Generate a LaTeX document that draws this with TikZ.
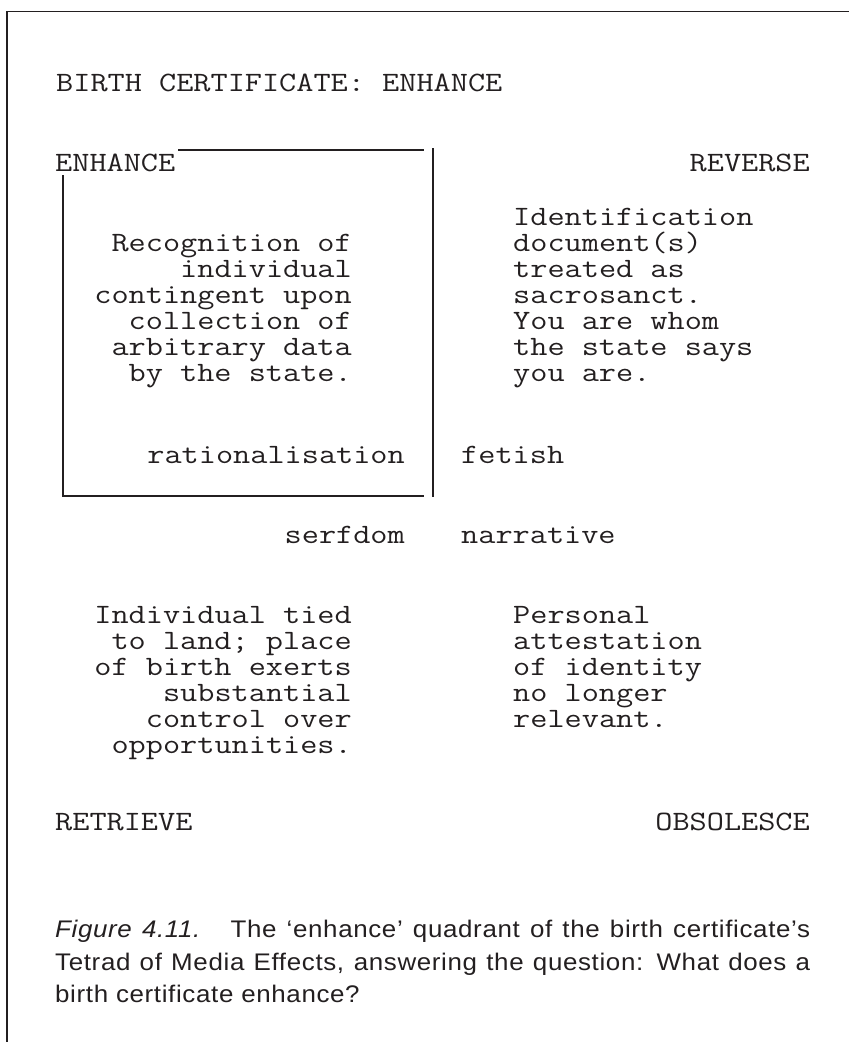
\documentclass[tikz,border=0pt]{standalone}
\usepackage{fontspec}
\setmainfont{Liberation Sans}[FakeStretch=1.08, LetterSpace=2.7]
\newfontfamily\cour{Latin Modern Mono}[FakeStretch=1.19]
\definecolor{ink}{HTML}{231F20}
\tikzset{
  mono/.style={inner sep=0pt, text=ink, font=\cour\fontsize{28}{26}\selectfont},
  capt/.style={inner sep=0pt, text=ink, font=\fontsize{24}{32}\selectfont, anchor=base west},
  frameline/.style={draw=ink, line width=1.8pt},
  boxline/.style={draw=ink, line width=1.7pt}
}
\begin{document}
\begin{tikzpicture}[x=1pt,y=-1pt]
\useasboundingbox (0,0) rectangle (849,1042);
% outer frame (left and top edges only)
\coordinate (fbl) at (7,1042);
\coordinate (ftl) at (7,11.5);
\coordinate (ftr) at (849,11.5);
\draw[frameline] (fbl) -- (ftl) -- (ftr);

% title
\node[mono, anchor=base west] (title) at (56,91) {BIRTH CERTIFICATE: ENHANCE};

% quadrant labels
\node[mono, anchor=base west] (enh) at (55,171) {ENHANCE};
\node[mono, anchor=base east] (rev) at (810,171) {REVERSE};
\node[mono, anchor=base west] (ret) at (55,830) {RETRIEVE};
\node[mono, anchor=base east] (obs) at (810,830) {OBSOLESCE};

% enhance box
\coordinate (btl) at (178,150);
\coordinate (btr) at (424,150);
\coordinate (rvt) at (433,148);
\coordinate (rvb) at (433,497);
\coordinate (lvt) at (63,175);
\coordinate (lvb) at (63,497);
\coordinate (bbl) at (63,496);
\coordinate (bbr) at (424,496);
\draw[boxline] (btl) -- (btr);
\draw[boxline] (rvt) -- (rvb);
\draw[boxline] (lvt) -- (lvb);
\draw[boxline] (bbl) -- (bbr);

% enhance text
\foreach \t [count=\i] in {Recognition of, individual, contingent upon, collection of, arbitrary data, by the state.}
  \node[mono, anchor=base east] (enhtext\i) at (352,{251+26*(\i-1)}) {\t};

% reverse text
\foreach \t [count=\i] in {Identification, document(s), treated as, sacrosanct., You are whom, the state says, you are.}
  \node[mono, anchor=base west] (revtext\i) at (513,{225+26*(\i-1)}) {\t};

% retrieve text
\foreach \t [count=\i] in {Individual tied, to land; place, of birth exerts, substantial, control over, opportunities.}
  \node[mono, anchor=base east] (rettext\i) at (352,{623+26*(\i-1)}) {\t};

% obsolesce text
\foreach \t [count=\i] in {Personal, attestation, of identity, no longer, relevant.}
  \node[mono, anchor=base west] (obstext\i) at (513,{623+26*(\i-1)}) {\t};

% keywords
\node[mono, anchor=base east] (rat) at (405,463) {rationalisation};
\node[mono, anchor=base west] (fet) at (461,463) {fetish};
\node[mono, anchor=base east] (ser) at (405,543) {serfdom};
\node[mono, anchor=base west] (nar) at (461,543) {narrative};

% caption
\node[capt] (cap1) at (55,937) {\makebox[755pt][s]{\textit{Figure 4.11.}\hspace{0.5em} The ‘enhance’ quadrant of the birth certificate’s}};
\node[capt] (cap2) at (55,970) {\makebox[755pt][s]{Tetrad of Media Effects, answering the question: What does a}};
\node[capt] (cap3) at (55,1002) {birth certificate enhance?};
\end{tikzpicture}
\end{document}
